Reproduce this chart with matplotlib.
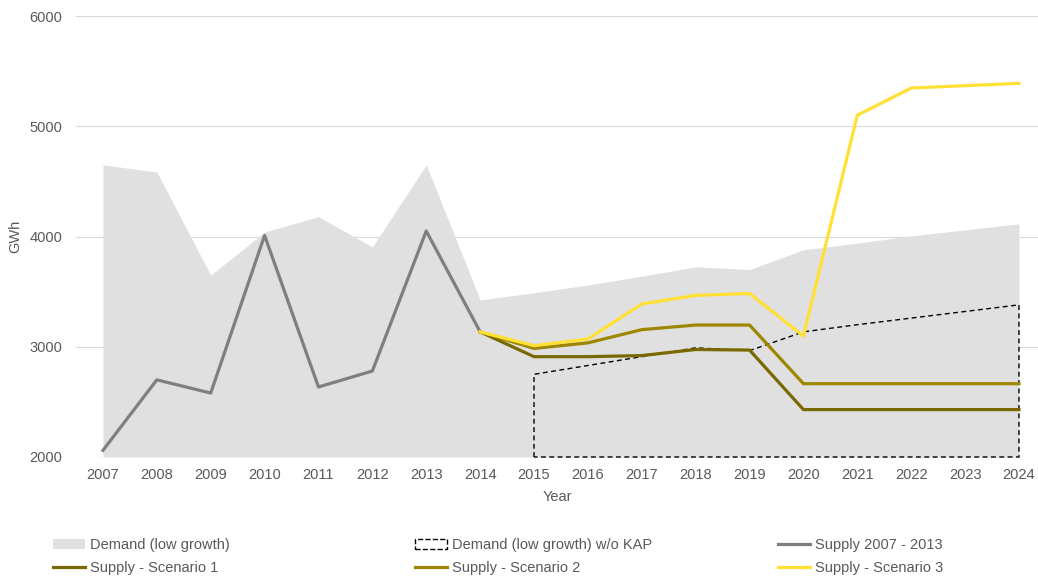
import matplotlib
matplotlib.use("Agg")
import matplotlib.pyplot as plt
from matplotlib.patches import Patch
from matplotlib.lines import Line2D
import numpy as np

plt.rcParams['font.family'] = ['Liberation Sans', 'DejaVu Sans']

years = np.arange(2007, 2025)

# Demand (low growth), 2007 - 2024
demand = [4650, 4585, 3650, 4040, 4180, 3905, 4650, 3425, 3490,
          3560, 3640, 3725, 3700, 3880, 3940, 4005, 4060, 4115]

# Demand (low growth) w/o KAP, 2015 - 2024
kap_years = np.arange(2015, 2025)
demand_kap = [2750, 2830, 2910, 2990, 2965, 3135, 3200, 3260, 3320, 3380]

# Supply 2007 - 2014
supply_years = np.arange(2007, 2015)
supply = [2060, 2700, 2580, 4010, 2635, 2780, 4050, 3135]

# Scenarios, 2014 - 2024
scen_years = np.arange(2014, 2025)
scenario1 = [3135, 2910, 2910, 2920, 2975, 2970, 2430, 2430, 2430, 2430, 2430]
scenario2 = [3135, 2985, 3035, 3155, 3197, 3197, 2665, 2665, 2665, 2665, 2665]
scenario3 = [3135, 3010, 3070, 3388, 3466, 3483, 3097, 5100, 5347, 5368, 5389]

text_col = "#595959"
c_demand = "#e0e0e0"
c_supply = "#7f7f7f"
c_s1 = "#7a6800"
c_s2 = "#9e8600"
c_s3 = "#ffe033"

fig = plt.figure(figsize=(10.38, 5.8), dpi=100)
ax = fig.add_axes([76 / 1038, 1 - 457 / 580, (1038 - 76) / 1038, (457 - 16) / 580])

ax.fill_between(years, demand, 2000, color=c_demand, lw=0, zorder=1)
ax.fill_between(kap_years, demand_kap, 2000, facecolor="none", edgecolor="black",
                linestyle=(0, (3.5, 2.5)), lw=1, zorder=2, clip_on=False)
ax.plot(supply_years, supply, color=c_supply, lw=2.3, zorder=3)
ax.plot(scen_years, scenario1, color=c_s1, lw=2.3, zorder=4)
ax.plot(scen_years, scenario2, color=c_s2, lw=2.3, zorder=4)
ax.plot(scen_years, scenario3, color=c_s3, lw=2.3, zorder=5)

ax.set_xlim(2006.5, 2024.353)
ax.set_ylim(2000, 6000)
ax.set_xticks(years)
ax.set_yticks(np.arange(2000, 6001, 1000))
ax.grid(axis="y", color="#d9d9d9", lw=0.8)
ax.set_axisbelow(True)
for s in ax.spines.values():
    s.set_visible(False)
ax.tick_params(length=0, labelsize=10.5, labelcolor=text_col)
ax.tick_params(axis="y", pad=10)
ax.tick_params(axis="x", pad=8)
ax.set_xlabel("Year", fontsize=10.5, color=text_col, labelpad=6)
ax.set_ylabel("GWh", fontsize=10.5, color=text_col, labelpad=5)

columns = [
    [(Patch(facecolor=c_demand, edgecolor="none"), "Demand (low growth)"),
     (Line2D([], [], color=c_s1, lw=2.3), "Supply - Scenario 1")],
    [(Patch(facecolor="none", edgecolor="black", linestyle="--", lw=1), "Demand (low growth) w/o KAP"),
     (Line2D([], [], color=c_s2, lw=2.3), "Supply - Scenario 2")],
    [(Line2D([], [], color=c_supply, lw=2.3), "Supply 2007 - 2013"),
     (Line2D([], [], color=c_s3, lw=2.3), "Supply - Scenario 3")],
]
for x0, col in zip([53, 415, 778], columns):
    handles, labels = zip(*col)
    leg = fig.legend(handles, labels, loc="upper left",
                     bbox_to_anchor=(x0 / 1038, 1 - 538 / 580),
                     frameon=False, fontsize=10.5, handlelength=2.2,
                     handletextpad=0.35, labelspacing=0.6, borderpad=0,
                     borderaxespad=0)
    for t in leg.get_texts():
        t.set_color(text_col)

fig.savefig("out.png", dpi=100)
